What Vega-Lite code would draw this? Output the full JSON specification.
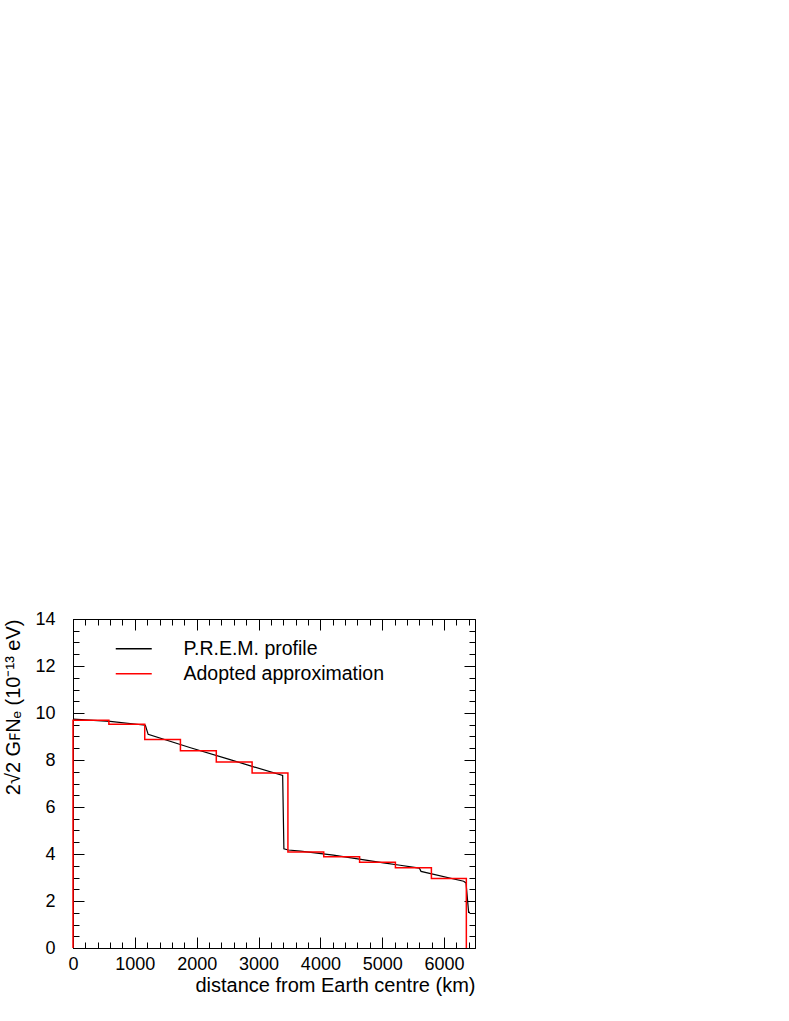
{
  "$schema": "https://vega.github.io/schema/vega-lite/v6.json",
  "width": 402,
  "height": 329,
  "autosize": {"type": "none"},
  "padding": {"left": 73, "top": 619, "right": 314, "bottom": 73},
  "background": "#ffffff",
  "datasets": {
    "prem": [
      {"series": "P.R.E.M. profile", "r": 0, "v": 9.74},
      {"series": "P.R.E.M. profile", "r": 600, "v": 9.64},
      {"series": "P.R.E.M. profile", "r": 1170, "v": 9.48},
      {"series": "P.R.E.M. profile", "r": 1215, "v": 9.09},
      {"series": "P.R.E.M. profile", "r": 1900, "v": 8.52},
      {"series": "P.R.E.M. profile", "r": 2500, "v": 8.05},
      {"series": "P.R.E.M. profile", "r": 2870, "v": 7.75},
      {"series": "P.R.E.M. profile", "r": 3390, "v": 7.34},
      {"series": "P.R.E.M. profile", "r": 3410, "v": 4.22},
      {"series": "P.R.E.M. profile", "r": 3480, "v": 4.17},
      {"series": "P.R.E.M. profile", "r": 3680, "v": 4.12},
      {"series": "P.R.E.M. profile", "r": 4210, "v": 3.95},
      {"series": "P.R.E.M. profile", "r": 4630, "v": 3.78},
      {"series": "P.R.E.M. profile", "r": 5020, "v": 3.62},
      {"series": "P.R.E.M. profile", "r": 5290, "v": 3.52},
      {"series": "P.R.E.M. profile", "r": 5600, "v": 3.4},
      {"series": "P.R.E.M. profile", "r": 5627, "v": 3.26},
      {"series": "P.R.E.M. profile", "r": 6316, "v": 2.84},
      {"series": "P.R.E.M. profile", "r": 6355, "v": 2.77},
      {"series": "P.R.E.M. profile", "r": 6397, "v": 1.52},
      {"series": "P.R.E.M. profile", "r": 6420, "v": 1.52}
    ],
    "approx": [
      {"series": "Adopted approximation", "i": 0, "r": 0, "v": 0},
      {"series": "Adopted approximation", "i": 1, "r": 0, "v": 9.69},
      {"series": "Adopted approximation", "i": 2, "r": 580, "v": 9.52},
      {"series": "Adopted approximation", "i": 3, "r": 1160, "v": 8.87},
      {"series": "Adopted approximation", "i": 4, "r": 1737, "v": 8.39},
      {"series": "Adopted approximation", "i": 5, "r": 2317, "v": 7.92},
      {"series": "Adopted approximation", "i": 6, "r": 2896, "v": 7.45},
      {"series": "Adopted approximation", "i": 7, "r": 3475, "v": 4.09},
      {"series": "Adopted approximation", "i": 8, "r": 4054, "v": 3.88},
      {"series": "Adopted approximation", "i": 9, "r": 4634, "v": 3.65},
      {"series": "Adopted approximation", "i": 10, "r": 5213, "v": 3.42},
      {"series": "Adopted approximation", "i": 11, "r": 5795, "v": 2.96},
      {"series": "Adopted approximation", "i": 12, "r": 6360, "v": 0}
    ]
  },
  "resolve": {"axis": {"x": "independent", "y": "independent"}},
  "layer": [
    {
      "data": {"name": "prem"},
      "mark": {"type": "line", "strokeWidth": 1.2},
      "encoding": {
        "x": {"field": "r", "type": "quantitative", "scale": {"domain": [0, 6500], "nice": false, "zero": false},
          "axis": {"orient": "bottom", "values": [0, 1000, 2000, 3000, 4000, 5000, 6000], "format": "d", "tickSize": -11, "labelPadding": 18,
            "labelFontSize": 18, "labelFlush": false, "labelOverlap": false,
            "title": "distance from Earth centre (km)", "titleAnchor": "end", "titleFontSize": 20, "titlePadding": 2}},
        "y": {"field": "v", "type": "quantitative", "scale": {"domain": [0, 14], "nice": false, "zero": false},
          "axis": {"orient": "left", "values": [0, 2, 4, 6, 8, 10, 12, 14], "format": "d", "tickSize": -11, "labelPadding": 29,
            "labelFontSize": 18, "labelFlush": false, "labelOverlap": false,
            "title": "2√2 GꜰNₑ (10⁻¹³ eV)", "titleAnchor": "end", "titleFontSize": 20, "titlePadding": 11}},
        "color": {"field": "series", "type": "nominal",
          "scale": {"domain": ["P.R.E.M. profile", "Adopted approximation"], "range": ["#000000", "#ff0000"]},
          "legend": {"orient": "none", "legendX": 51, "legendY": 20, "title": null, "symbolType": "M-3,0H3", "symbolSize": 144,
            "symbolStrokeWidth": 1.5, "symbolFillColor": "transparent", "labelFontSize": 19.5, "labelOffset": 40, "labelLimit": 0, "padding": 0, "rowPadding": 4}}
      }
    },
    {
      "data": {"name": "approx"},
      "mark": {"type": "line", "strokeWidth": 1.5, "interpolate": "step-after"},
      "encoding": {
        "x": {"field": "r", "type": "quantitative", "scale": {"domain": [0, 6500], "nice": false, "zero": false},
          "axis": {"orient": "bottom", "values": [0,200,400,600,800,1000,1200,1400,1600,1800,2000,2200,2400,2600,2800,3000,3200,3400,3600,3800,4000,4200,4400,4600,4800,5000,5200,5400,5600,5800,6000,6200,6400],
            "tickSize": -6, "labels": false, "title": null}},
        "y": {"field": "v", "type": "quantitative", "scale": {"domain": [0, 14], "nice": false, "zero": false},
          "axis": {"orient": "left", "values": [0,0.5,1,1.5,2,2.5,3,3.5,4,4.5,5,5.5,6,6.5,7,7.5,8,8.5,9,9.5,10,10.5,11,11.5,12,12.5,13,13.5,14],
            "tickSize": -6, "labels": false, "title": null}},
        "order": {"field": "i", "type": "quantitative"},
        "color": {"field": "series", "type": "nominal"}
      }
    },
    {
      "data": {"name": "prem"},
      "mark": {"type": "line", "opacity": 0},
      "encoding": {
        "x": {"field": "r", "type": "quantitative", "scale": {"domain": [0, 6500], "nice": false, "zero": false},
          "axis": {"orient": "top", "values": [0, 1000, 2000, 3000, 4000, 5000, 6000], "tickSize": -11, "labels": false, "title": null}},
        "y": {"field": "v", "type": "quantitative", "scale": {"domain": [0, 14], "nice": false, "zero": false},
          "axis": {"orient": "right", "values": [0, 2, 4, 6, 8, 10, 12, 14], "tickSize": -11, "labels": false, "title": null}}
      }
    },
    {
      "data": {"name": "prem"},
      "mark": {"type": "line", "opacity": 0},
      "encoding": {
        "x": {"field": "r", "type": "quantitative", "scale": {"domain": [0, 6500], "nice": false, "zero": false},
          "axis": {"orient": "top", "values": [0,200,400,600,800,1000,1200,1400,1600,1800,2000,2200,2400,2600,2800,3000,3200,3400,3600,3800,4000,4200,4400,4600,4800,5000,5200,5400,5600,5800,6000,6200,6400],
            "tickSize": -6, "labels": false, "title": null}},
        "y": {"field": "v", "type": "quantitative", "scale": {"domain": [0, 14], "nice": false, "zero": false},
          "axis": {"orient": "right", "values": [0,0.5,1,1.5,2,2.5,3,3.5,4,4.5,5,5.5,6,6.5,7,7.5,8,8.5,9,9.5,10,10.5,11,11.5,12,12.5,13,13.5,14],
            "tickSize": -6, "labels": false, "title": null}}
      }
    }
  ],
  "config": {
    "font": "Liberation Sans",
    "view": {"stroke": "#000000", "strokeWidth": 1},
    "axis": {"domain": false, "grid": false, "tickColor": "#000000", "tickWidth": 1, "labelColor": "#000000", "titleColor": "#000000",
      "labelFont": "Liberation Sans", "titleFont": "Liberation Sans", "titleFontWeight": "normal"},
    "legend": {"labelFont": "Liberation Sans", "labelColor": "#000000"}
  }
}
